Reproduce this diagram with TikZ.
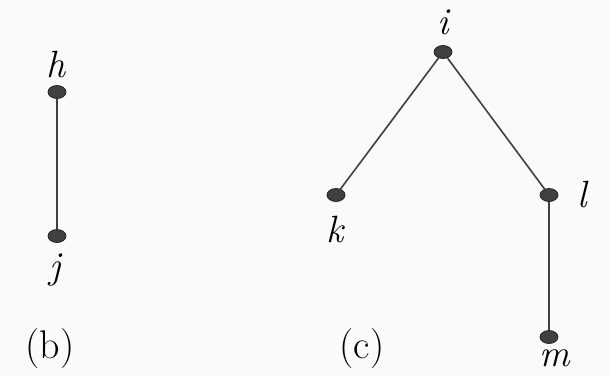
\documentclass[tikz,border=0pt]{standalone}
\usetikzlibrary{shapes.geometric}
\begin{document}
\begin{tikzpicture}[x=1pt,y=-1pt,
  vtx/.style={ellipse,draw=black!85,fill=black!75,line width=0.8pt,minimum width=18pt,minimum height=13pt,inner sep=0pt},
  edge/.style={draw=black!75,line width=1.6pt},
  lab/.style={font=\fontsize{38}{40}\selectfont,inner sep=0pt},
  captext/.style={font=\fontsize{40}{42}\selectfont,inner sep=0pt}]
\useasboundingbox[fill=black!2] (0,0) rectangle (609,376);
\node[vtx] (h) at (57,92) {};
\node[vtx] (j) at (57,236) {};
\node[vtx] (i) at (443,52) {};
\node[vtx] (k) at (336,195) {};
\node[vtx] (l) at (549,195) {};
\node[vtx] (m) at (549,337) {};
\draw[edge] (h) -- (j);
\draw[edge] (i) -- (k);
\draw[edge] (i) -- (l);
\draw[edge] (l) -- (m);
\node[lab] (hl) at (56,64) {\itshape h};
\node[lab] (jl) at (55,270) {\itshape j};
\node[lab] (il) at (443,22) {\itshape i};
\node[lab] (kl) at (335,229) {\itshape k};
\node[lab] (ll) at (582,194) {\itshape l};
\node[lab] (ml) at (555,358) {\itshape m};
\node[captext] (b) at (50,349) {(b)};
\node[captext] (c) at (362,349) {(c)};
\end{tikzpicture}
\end{document}
